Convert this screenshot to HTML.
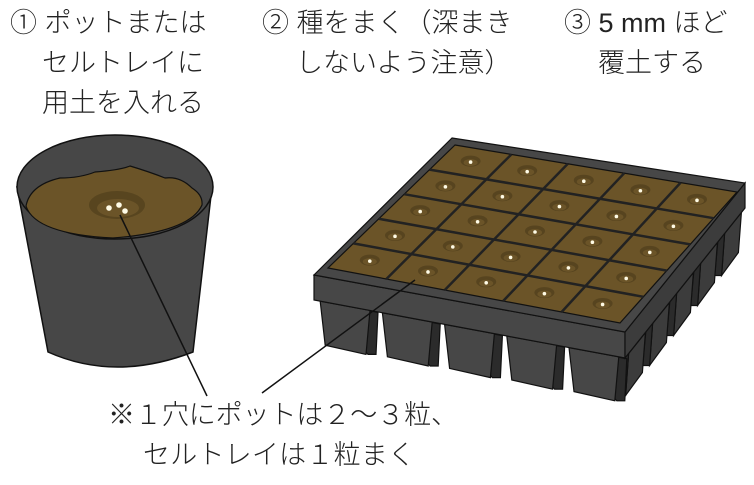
<!DOCTYPE html>
<html><head><meta charset="utf-8"><style>
html,body{margin:0;padding:0;background:#fff}
svg{display:block}
text{font-family:"Liberation Sans","Noto Sans CJK JP",sans-serif;font-size:27px;fill:#222;font-weight:300}
</style></head><body>
<svg id="s" width="754" height="485" viewBox="0 0 754 485" xmlns="http://www.w3.org/2000/svg">
<g id="tray"></g>
<!-- pot -->
<path d="M17,187 L48,352 Q115,382 193,352 L212,187 Z" fill="#474747" stroke="#111" stroke-width="1.5"/>
<ellipse cx="115" cy="187" rx="98" ry="52" fill="#474747" stroke="#111" stroke-width="1.5"/>
<path d="M26,206 Q30,185 60,178 Q80,178 95,172 Q120,170 130,166 Q150,172 165,178 Q180,176 192,188 Q203,195 202,205 Q190,232 113,238 Q35,234 26,206 Z" fill="#6b5428" stroke="#111" stroke-width="1.2"/>
<ellipse cx="117" cy="205" rx="28" ry="14" fill="#58451f"/>
<ellipse cx="118" cy="208" rx="21" ry="9" fill="#6b5428"/>
<circle cx="109" cy="208" r="2.8" fill="#fffbe6"/>
<circle cx="119" cy="205" r="2.8" fill="#fffbe6"/>
<circle cx="125" cy="211" r="2.8" fill="#fffbe6"/>
<!-- leaders -->
<line x1="120" y1="215" x2="207" y2="396" stroke="#111" stroke-width="1.5"/>
<line x1="415" y1="280" x2="262" y2="393" stroke="#111" stroke-width="1.5"/>
<!-- text -->
<text x="10" y="32">① ポットまたは</text>
<text x="42" y="72">セルトレイに</text>
<text x="42" y="112">用土を入れる</text>
<text x="262" y="32">② 種をまく（深まき</text>
<text x="296" y="72">しないよう注意）</text>
<text x="564" y="32">③ 5 mm ほど</text>
<text x="598" y="72">覆土する</text>
<text x="108" y="424" textLength="350">※１穴にポットは２〜３粒、</text>
<text x="143" y="464" textLength="272">セルトレイは１粒まく</text>
</svg>
<script>
(function(){
var g=document.getElementById('tray'),h='';
function L(a,b,t){return [a[0]+(b[0]-a[0])*t,a[1]+(b[1]-a[1])*t];}
function P(pts,f,s){return '<polygon points="'+pts.map(function(p){return p[0].toFixed(1)+','+p[1].toFixed(1)}).join(' ')+'" fill="'+f+'" stroke="#111" stroke-width="1.2"/>';}
var oTL=[452,138],oTR=[745,183],oBR=[625,332],oBL=[314,275];
var fBL=[314,300],fBR=[625,358],rB=[745,208];
// right side pots
for(var i=4;i>=0;i--){
 var a=L(fBR,rB,i/5+0.03),b=L(fBR,rB,(i+1)/5-0.03);
 h+=P([a,b,[b[0]-3,b[1]+40],[a[0]-3,a[1]+42]],'#3c3c3c');
 h+=P([[a[0]-6,a[1]],a,[a[0]-3,a[1]+42],[a[0]-10,a[1]+42]],'#2b2b2b');
}
// front pots
for(var i=0;i<5;i++){
 var a=L(fBL,fBR,i/5+0.02),b=L(fBL,fBR,(i+1)/5-0.02);
 h+=P([a,[b[0]+8,b[1]+2],[b[0]+6,b[1]+44],[b[0]-2,b[1]+44]],'#2b2b2b');
 h+=P([a,b,[b[0]-4,b[1]+44],[a[0]+5,a[1]+44]],'#474747');
}
// rim faces
h+=P([oBL,oBR,fBR,fBL],'#474747');
h+=P([oBR,oTR,rB,fBR],'#3c3c3c');
h+=P([oTL,oTR,oBR,oBL],'#474747');
var TL=[455,145],TR=[737,192],BR=[620,323],BL=[328,268];
function Q(u,v){var t=L(TL,TR,u),b=L(BL,BR,u);return L(t,b,v);}
h+=P([TL,TR,BR,BL],'#6b5428');
for(var k=1;k<5;k++){
 var p1=Q(k/5,0),p2=Q(k/5,1),q1=Q(0,k/5),q2=Q(1,k/5);
 h+='<line x1="'+p1[0]+'" y1="'+p1[1]+'" x2="'+p2[0]+'" y2="'+p2[1]+'" stroke="#222" stroke-width="2.5"/>';
 h+='<line x1="'+q1[0]+'" y1="'+q1[1]+'" x2="'+q2[0]+'" y2="'+q2[1]+'" stroke="#222" stroke-width="2.5"/>';
}
for(var r=0;r<5;r++)for(var c=0;c<5;c++){
 var m=Q((c+0.5)/5,(r+0.5)/5);
 h+='<ellipse cx="'+m[0]+'" cy="'+(m[1]-1)+'" rx="10" ry="5.5" fill="#57441f"/>';
 h+='<ellipse cx="'+m[0]+'" cy="'+(m[1]+0.5)+'" rx="7" ry="3.5" fill="#6b5428"/>';
 h+='<circle cx="'+m[0]+'" cy="'+m[1]+'" r="1.8" fill="#fffbe6"/>';
}
g.innerHTML=h;
})();
</script>
</body></html>
